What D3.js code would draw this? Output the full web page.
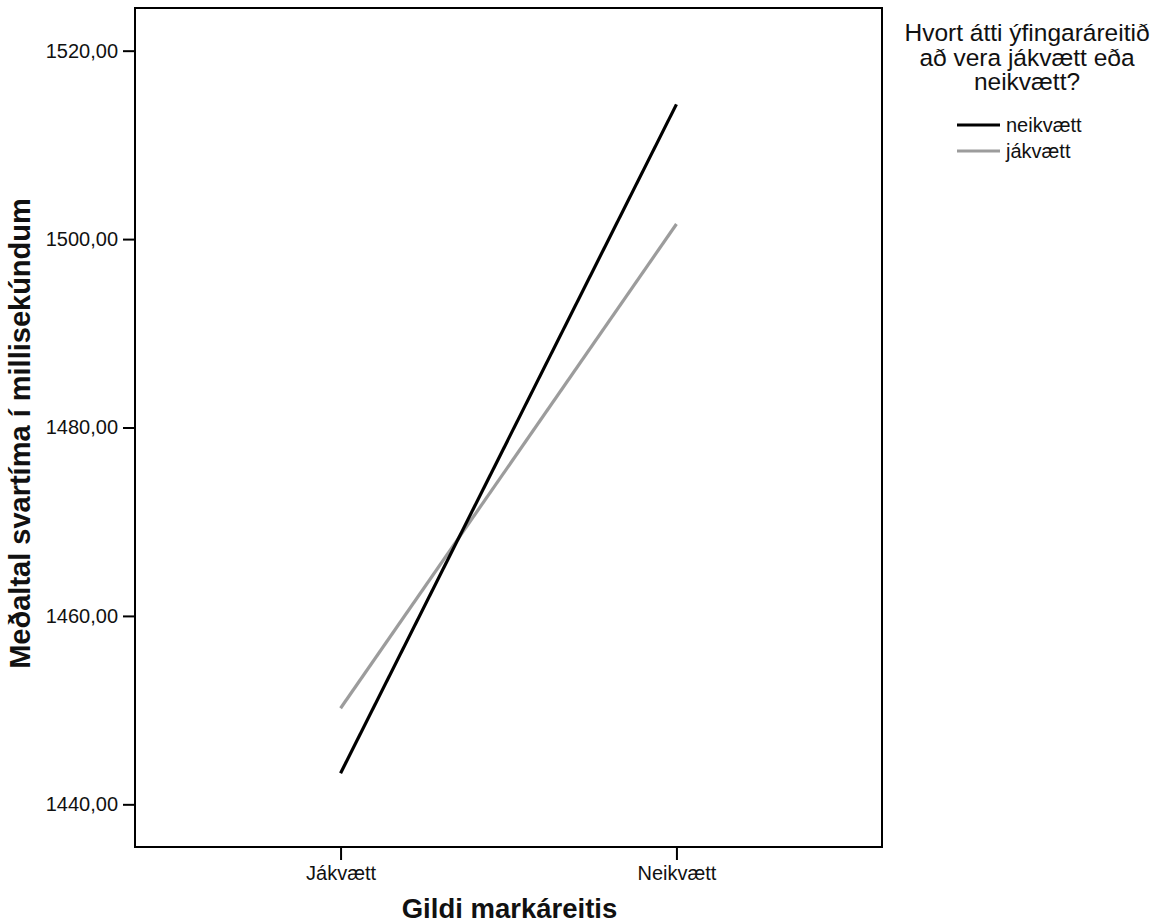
<!DOCTYPE html>
<html>
<head>
<meta charset="utf-8">
<script src="https://cdn.jsdelivr.net/npm/d3@7/dist/d3.min.js"></script>
<style>
  html, body { margin: 0; padding: 0; background: #fff; }
  svg { display: block; font-family: Arial, "Liberation Sans", sans-serif; }
</style>
</head>
<body>
<svg id="chart" width="1163" height="924"></svg>
<script>
// Categories on the x axis (target stimulus value)
const categories = ["Jákvætt", "Neikvætt"];
// Mean response time (ms) per prime-stimulus group
const seriesNames = ["neikvætt", "jákvætt"];
const neikvaettValues = [1443.3, 1514.3];
const jakvaettValues = [1450.2, 1501.6];
const seriesColors = ["#000000", "#9c9c9c"];
const yTicks = [1440, 1460, 1480, 1500, 1520];
const yDomain = [1435.47, 1524.53];
const legendTitle = ["Hvort átti ýfingaráreitið", "að vera jákvætt eða", "neikvætt?"];
const xTitle = "Gildi markáreitis";
const yTitle = "Meðaltal svartíma í millisekúndum";

const series = [
  { name: seriesNames[0], values: neikvaettValues, color: seriesColors[0] },
  { name: seriesNames[1], values: jakvaettValues, color: seriesColors[1] }
];

const svg = d3.select("#chart");
const plot = { left: 135, right: 882, top: 8, bottom: 847 };

const x = d3.scalePoint().domain(categories).range([plot.left, plot.right]).padding(0.612);
const y = d3.scaleLinear().domain(yDomain).range([plot.bottom, plot.top]);

const fmt = v => d3.format(".2f")(v).replace(".", ",");

// Y axis
const yAxis = svg.append("g")
  .attr("transform", `translate(${plot.left},0)`)
  .call(d3.axisLeft(y).tickValues(yTicks).tickFormat(fmt).tickSize(12).tickPadding(5));
yAxis.select(".domain").remove();
yAxis.selectAll(".tick line").attr("stroke", "#000").attr("stroke-width", 2);
yAxis.selectAll(".tick text").attr("font-size", "20px").attr("fill", "#111")
  .attr("font-family", "Arial, 'Liberation Sans', sans-serif");

// X axis
const xAxis = svg.append("g")
  .attr("transform", `translate(0,${plot.bottom})`)
  .call(d3.axisBottom(x).tickSize(13).tickPadding(6));
xAxis.select(".domain").remove();
xAxis.selectAll(".tick line").attr("stroke", "#000").attr("stroke-width", 2);
xAxis.selectAll(".tick text").attr("font-size", "20px").attr("fill", "#111")
  .attr("font-family", "Arial, 'Liberation Sans', sans-serif");

// Plot frame
svg.append("rect")
  .attr("x", plot.left).attr("y", plot.top)
  .attr("width", plot.right - plot.left).attr("height", plot.bottom - plot.top)
  .attr("fill", "none").attr("stroke", "#000").attr("stroke-width", 2);

// Lines (gray drawn first, black on top)
const line = d3.line().x((d, i) => x(categories[i])).y(d => y(d));
svg.selectAll("path.series")
  .data(series.slice().reverse())
  .enter().append("path")
  .attr("class", "series")
  .attr("d", d => line(d.values))
  .attr("fill", "none")
  .attr("stroke", d => d.color)
  .attr("stroke-width", 3.2);

// Axis titles
svg.append("text")
  .attr("x", (plot.left + plot.right) / 2 + 1).attr("y", 918)
  .attr("text-anchor", "middle")
  .attr("font-size", "27.5px").attr("font-weight", "bold").attr("fill", "#111")
  .text(xTitle);

svg.append("text")
  .attr("transform", `translate(30,${(plot.top + plot.bottom) / 2 + 6}) rotate(-90)`)
  .attr("text-anchor", "middle")
  .attr("font-size", "29px").attr("font-weight", "bold").attr("fill", "#111")
  .text(yTitle);

// Legend
const legend = svg.append("g");
legend.selectAll("text.title")
  .data(legendTitle)
  .enter().append("text")
  .attr("class", "title")
  .attr("x", 1027).attr("y", (d, i) => 41 + i * 24.5)
  .attr("text-anchor", "middle")
  .attr("font-size", "24.5px").attr("fill", "#111")
  .text(d => d);

const items = legend.selectAll("g.item")
  .data(series)
  .enter().append("g")
  .attr("class", "item")
  .attr("transform", (d, i) => `translate(957,${125 + i * 26})`);
items.append("line")
  .attr("x1", 0).attr("x2", 43).attr("y1", 0).attr("y2", 0)
  .attr("stroke", d => d.color).attr("stroke-width", 3.2);
items.append("text")
  .attr("x", 49).attr("y", 6.5)
  .attr("font-size", "20px").attr("fill", "#111")
  .text(d => d.name);
</script>
</body>
</html>
